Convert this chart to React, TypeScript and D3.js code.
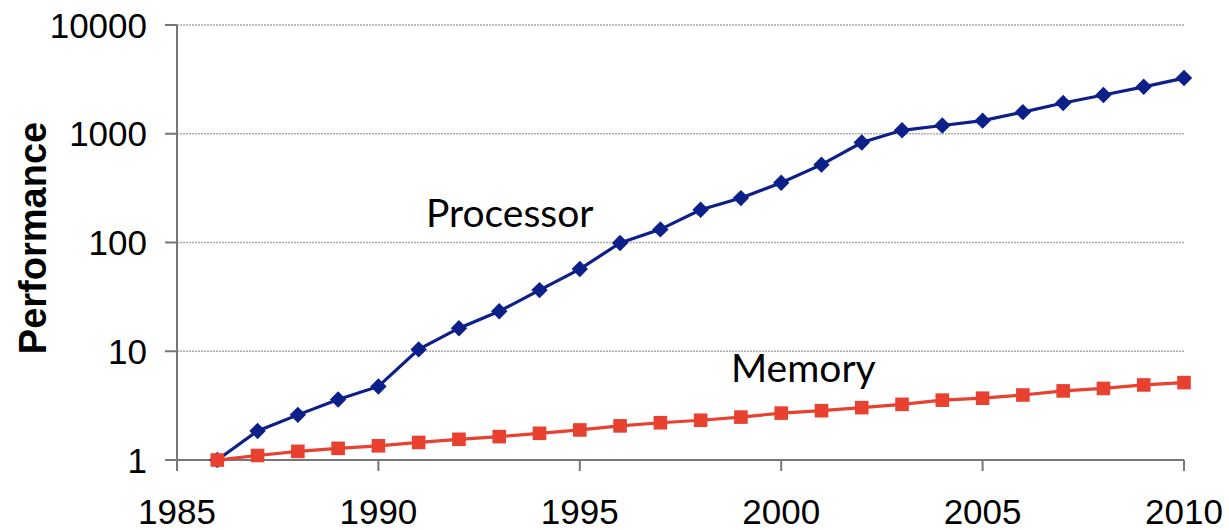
import React from 'react';
import * as d3 from 'd3';

const years = d3.range(1986, 2011);
const processor = [1, 1.85, 2.6, 3.6, 4.75, 10.4, 16.3, 23.3, 36.5, 57, 99, 132, 200, 256, 355, 520, 830, 1075, 1190, 1320, 1580, 1920, 2270, 2700, 3250];
const memory = [1, 1.1, 1.2, 1.28, 1.35, 1.45, 1.55, 1.64, 1.76, 1.89, 2.06, 2.2, 2.32, 2.48, 2.7, 2.84, 3.03, 3.25, 3.55, 3.7, 3.96, 4.32, 4.55, 4.9, 5.15];
const yTicks = [1, 10, 100, 1000, 10000];
const xTicks = [1985, 1990, 1995, 2000, 2005, 2010];

const width = 1229;
const height = 530;

const App: React.FC = () => {
    const x = d3.scaleLinear().domain([1985, 2010]).range([177, 1184]);
    const y = d3.scaleLog().domain([1, 10000]).range([460, 25]);

    const line = d3.line<number>()
        .x((d, i) => x(years[i]))
        .y(d => y(d));

    const diamond = d3.symbol().type(d3.symbolSquare).size(135)();
    const square = d3.symbol().type(d3.symbolSquare).size(185)();

    const axisColor = '#777';
    const tickFont = '"Liberation Sans", Arial, sans-serif';
    const labelFont = 'Lato, "Open Sans", sans-serif';

    return (
        <svg width={width} height={height} style={{ position: 'absolute', left: 0, top: 0, background: '#fff' }}>
            {/* grid */}
            {yTicks.slice(1).map(t => (
                <line key={'g' + t} x1={x(1985)} x2={x(2010)} y1={y(t)} y2={y(t)}
                    stroke="#aaa" strokeWidth={1.5} strokeDasharray="2,1" />
            ))}

            {/* y axis */}
            <line x1={x(1985)} x2={x(1985)} y1={y(10000)} y2={y(1) + 11} stroke={axisColor} strokeWidth={2} />
            {yTicks.map(t => (
                <g key={'y' + t}>
                    <line x1={x(1985) - 12} x2={x(1985)} y1={y(t)} y2={y(t)} stroke={axisColor} strokeWidth={2} />
                    <text x={x(1985) - 30} y={y(t)} dy="0.36em" textAnchor="end"
                        fontFamily={tickFont} fontSize={35} fill="#000">{t}</text>
                </g>
            ))}

            {/* x axis */}
            <line x1={x(1985) - 12} x2={x(2010)} y1={y(1)} y2={y(1)} stroke={axisColor} strokeWidth={2} />
            {xTicks.map(t => (
                <g key={'x' + t}>
                    <line x1={x(t)} x2={x(t)} y1={y(1)} y2={y(1) + 11} stroke={axisColor} strokeWidth={2} />
                    <text x={x(t)} y={524} textAnchor="middle"
                        fontFamily={tickFont} fontSize={35} fill="#000">{t}</text>
                </g>
            ))}

            <text transform="translate(46,238) rotate(-90)" textAnchor="middle"
                fontFamily={tickFont} fontWeight="bold" fontSize={38} fill="#000">Performance</text>

            {/* processor */}
            <path d={line(processor) ?? ''} fill="none" stroke="#0d1f88" strokeWidth={3.2} />
            {processor.map((v, i) => (
                <path key={'p' + i} d={diamond ?? ''} fill="#0d1f88"
                    transform={`translate(${x(years[i])},${y(v)}) rotate(45)`} />
            ))}

            {/* memory */}
            <path d={line(memory) ?? ''} fill="none" stroke="#e8412f" strokeWidth={3.2} />
            {memory.map((v, i) => (
                <path key={'m' + i} d={square ?? ''} fill="#e8412f"
                    transform={`translate(${x(years[i])},${y(v)})`} />
            ))}

            <text x={426} y={227} fontFamily={labelFont} fontSize={39} fill="#000">Processor</text>
            <text x={731} y={382} fontFamily={labelFont} fontSize={39} fill="#000">Memory</text>
        </svg>
    );
};

export default App;
